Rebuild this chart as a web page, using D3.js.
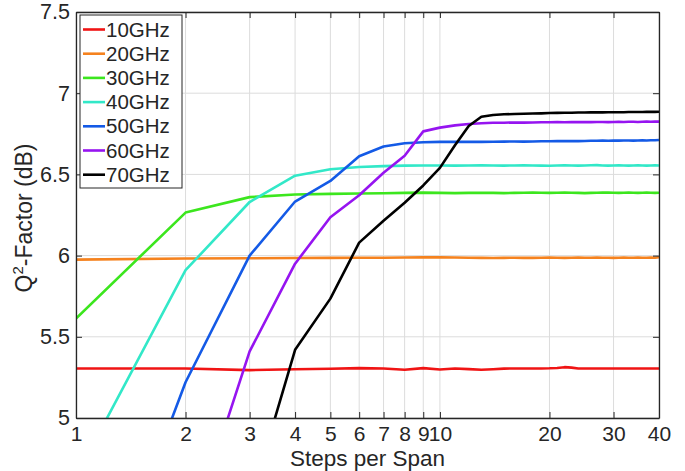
<!DOCTYPE html>
<html>
<head>
<meta charset="utf-8">
<script src="https://cdn.jsdelivr.net/npm/d3@7"></script>
<style>
  body { margin: 0; background: #fff; }
  text { font-family: "Liberation Sans", Arial, Helvetica, sans-serif; fill: #262626; }
</style>
</head>
<body>
<div id="container"></div>
<script>
// data
let steps = [1,2,3,4,5,6,7,8,9,10,11,12,13,14,15,16,17,18,19,20,21,22,23,24,25,26,27,28,29,30,31,32,33,34,35,36,37,38,39,40];

let q10 = [5.305,5.305,5.295,5.300,5.303,5.307,5.305,5.297,5.307,5.299,5.305,5.301,5.297,5.300,5.304,5.305,5.305,5.305,5.305,5.306,5.308,5.313,5.310,5.305,5.305,5.305,5.305,5.305,5.305,5.305,5.305,5.305,5.305,5.305,5.305,5.305,5.305,5.305,5.305,5.305];
let q20 = [5.975,5.982,5.984,5.985,5.986,5.987,5.987,5.988,5.990,5.989,5.988,5.987,5.986,5.985,5.986,5.987,5.986,5.986,5.987,5.988,5.987,5.986,5.987,5.988,5.987,5.987,5.988,5.987,5.987,5.986,5.987,5.988,5.987,5.987,5.988,5.987,5.987,5.988,5.987,5.990];
let q30 = [5.612,6.265,6.360,6.376,6.380,6.382,6.384,6.386,6.388,6.386,6.385,6.386,6.387,6.386,6.385,6.386,6.387,6.388,6.387,6.386,6.387,6.388,6.387,6.386,6.385,6.386,6.387,6.388,6.389,6.387,6.386,6.387,6.388,6.387,6.386,6.387,6.388,6.387,6.386,6.387];
let q40 = [4.64,5.91,6.33,6.492,6.532,6.546,6.551,6.554,6.555,6.555,6.554,6.555,6.556,6.555,6.554,6.555,6.556,6.555,6.554,6.553,6.555,6.556,6.555,6.554,6.555,6.556,6.557,6.555,6.554,6.555,6.556,6.555,6.554,6.555,6.556,6.555,6.554,6.555,6.556,6.555];
let q50 = [3.43,5.22,6.00,6.333,6.460,6.612,6.672,6.692,6.698,6.700,6.700,6.701,6.700,6.701,6.702,6.703,6.702,6.703,6.704,6.704,6.705,6.705,6.706,6.705,6.706,6.707,6.707,6.708,6.707,6.708,6.708,6.709,6.709,6.708,6.709,6.710,6.709,6.710,6.710,6.712];
let q60 = [null,4.20,5.41,5.950,6.236,6.372,6.510,6.615,6.765,6.788,6.802,6.810,6.815,6.818,6.818,6.820,6.819,6.820,6.821,6.821,6.822,6.821,6.822,6.822,6.823,6.822,6.823,6.823,6.822,6.823,6.824,6.823,6.824,6.824,6.823,6.824,6.825,6.824,6.825,6.825];
let q70 = [null,null,4.47,5.42,5.735,6.080,6.215,6.325,6.432,6.540,6.680,6.798,6.855,6.866,6.870,6.872,6.873,6.875,6.876,6.878,6.879,6.880,6.880,6.881,6.881,6.882,6.882,6.882,6.883,6.883,6.883,6.883,6.884,6.884,6.884,6.884,6.885,6.885,6.885,6.886];

let seriesNames = ["10GHz","20GHz","30GHz","40GHz","50GHz","60GHz","70GHz"];
let seriesColors = ["#f01414","#f5821e","#3ce61e","#32e8c8","#145ae6","#9614f0","#000000"];
let xTicks = [1,2,3,4,5,6,7,8,9,10,20,30,40];
let yTicks = [5,5.5,6,6.5,7,7.5];

let allSeries = [q10,q20,q30,q40,q50,q60,q70];

let w = 685;
let h = 471;
let padLeft = 76, padRight = 659, padTop = 12, padBottom = 418;

let viz = d3.select("#container")
  .append("svg")
    .attr("width", w)
    .attr("height", h)
;

let xScale = d3.scaleLog().domain([1, 40]).range([padLeft, padRight]);
let yScale = d3.scaleLinear().domain([5, 7.5]).range([padBottom, padTop]);

// grid
let grid = viz.append("g").attr("stroke", "#dcdcdc").attr("stroke-width", 1);
grid.selectAll(".vg").data(xTicks).enter().append("line")
  .attr("x1", d => xScale(d)).attr("x2", d => xScale(d))
  .attr("y1", padTop).attr("y2", padBottom);
grid.selectAll(".hg").data(yTicks).enter().append("line")
  .attr("y1", d => yScale(d)).attr("y2", d => yScale(d))
  .attr("x1", padLeft).attr("x2", padRight);

// clip lines to the plot box
viz.append("clipPath").attr("id", "plotclip")
  .append("rect")
    .attr("x", padLeft).attr("y", padTop)
    .attr("width", padRight - padLeft).attr("height", padBottom - padTop);

let line = d3.line()
  .defined(d => d[1] != null)
  .x(d => xScale(d[0]))
  .y(d => yScale(d[1]));

let graphGroup = viz.append("g").attr("clip-path", "url(#plotclip)");
graphGroup.selectAll("path").data(allSeries).enter().append("path")
  .attr("d", function(s){
    return line(steps.map((x, i) => [x, s[i]]));
  })
  .attr("fill", "none")
  .attr("stroke", (d, i) => seriesColors[i])
  .attr("stroke-width", 2.6)
  .attr("stroke-linejoin", "round");

// axes, matlab style: ticks inward on all sides
let xAxis = d3.axisBottom(xScale).tickValues(xTicks).tickFormat(d3.format("d")).tickSizeInner(-6).tickSizeOuter(0).tickPadding(8);
let xAxisGroup = viz.append("g").attr("transform", "translate(0," + padBottom + ")").call(xAxis);
let xTop = d3.axisTop(xScale).tickValues(xTicks).tickFormat("").tickSizeInner(-6).tickSizeOuter(0);
let xTopGroup = viz.append("g").attr("transform", "translate(0," + padTop + ")").call(xTop);

let yAxis = d3.axisLeft(yScale).tickValues(yTicks).tickFormat(d3.format("")).tickSizeInner(-6).tickSizeOuter(0).tickPadding(6);
let yAxisGroup = viz.append("g").attr("transform", "translate(" + padLeft + ",0)").call(yAxis);
let yRight = d3.axisRight(yScale).tickValues(yTicks).tickFormat("").tickSizeInner(-6).tickSizeOuter(0);
let yRightGroup = viz.append("g").attr("transform", "translate(" + padRight + ",0)").call(yRight);

[xAxisGroup, xTopGroup, yAxisGroup, yRightGroup].forEach(function(g){
  g.selectAll("path").attr("stroke", "#262626").attr("stroke-width", 1.3);
  g.selectAll("line").attr("stroke", "#262626").attr("stroke-width", 1);
  g.selectAll("text").attr("font-size", 21.5).attr("fill", "#262626")
    .attr("font-family", "'Liberation Sans', Arial, sans-serif");
});
xAxisGroup.selectAll("text").attr("font-size", 21);

// axis labels
viz.append("text")
  .attr("x", (padLeft + padRight) / 2)
  .attr("y", 466)
  .attr("text-anchor", "middle")
  .attr("font-size", 22.5)
  .text("Steps per Span");

let ylab = viz.append("text")
  .attr("transform", "translate(32," + ((padTop + padBottom) / 2 + 3) + ") rotate(-90)")
  .attr("text-anchor", "middle")
  .attr("font-size", 23);
ylab.append("tspan").text("Q");
ylab.append("tspan").attr("font-size", 15).attr("dy", -9).text("2");
ylab.append("tspan").attr("dy", 9).text("-Factor (dB)");

// legend
let legend = viz.append("g");
legend.append("rect")
  .attr("x", 80).attr("y", 15)
  .attr("width", 102).attr("height", 173)
  .attr("fill", "#fff")
  .attr("stroke", "#262626")
  .attr("stroke-width", 1);
let entries = legend.selectAll(".entry").data(seriesNames).enter().append("g")
  .attr("transform", (d, i) => "translate(0," + (29.5 + i * 24.2) + ")");
entries.append("line")
  .attr("x1", 83).attr("x2", 105)
  .attr("stroke", (d, i) => seriesColors[i])
  .attr("stroke-width", 2.6);
entries.append("text")
  .attr("x", 106).attr("y", 7)
  .attr("font-size", 20.5)
  .text(d => d);
</script>
</body>
</html>
